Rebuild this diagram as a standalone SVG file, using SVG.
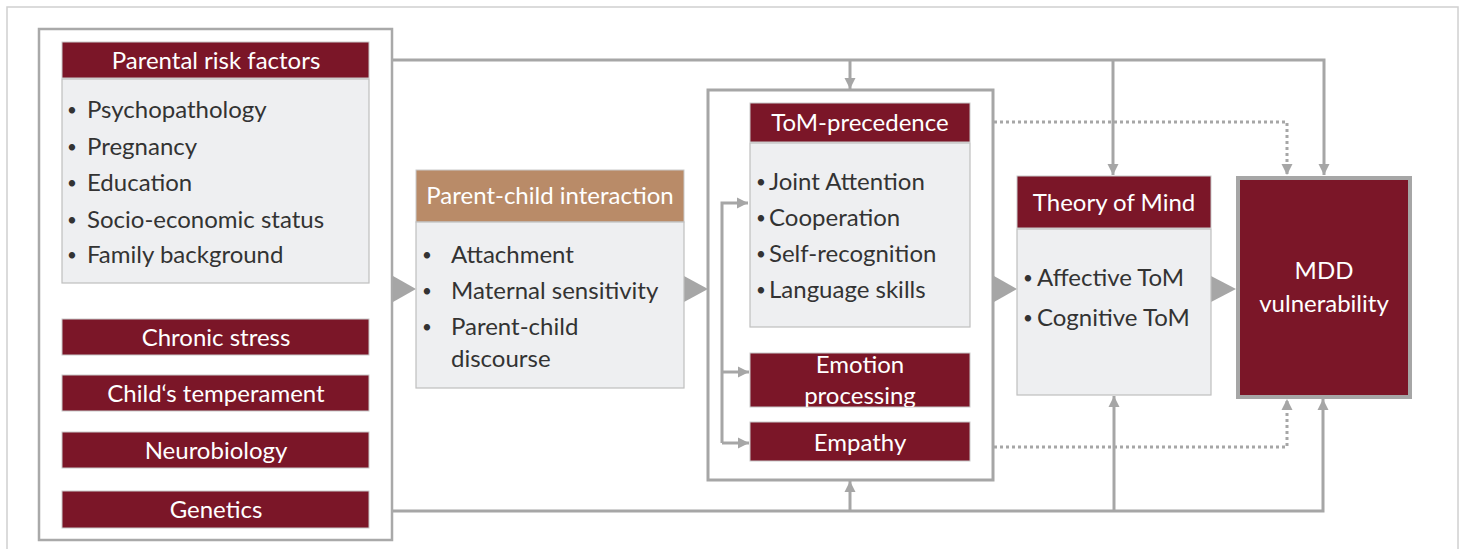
<svg xmlns="http://www.w3.org/2000/svg" width="1466" height="549" viewBox="0 0 1466 549">
<style>
text{font-family:Lato,"Open Sans","Liberation Sans",sans-serif;font-size:24px}
.hd{fill:#7b1628;stroke:#c9c9c9;stroke-width:1}
.bd{fill:#eeeff1;stroke:#bfbfbf;stroke-width:1.2}
.w{fill:#ffffff;text-anchor:middle}
.t{fill:#333333}
.b{fill:#333333;font-size:17px;text-anchor:middle}
.ln{fill:none;stroke:#a6a6a6;stroke-width:3}
.dt{fill:none;stroke:#a6a6a6;stroke-width:3;stroke-dasharray:3 3}
.tri{fill:#a6a6a6}
</style>
<defs>
<marker id="ah" markerUnits="userSpaceOnUse" markerWidth="12" markerHeight="12" refX="11" refY="6" orient="auto">
<path d="M0,0.5 L11,6 L0,11.5 z" fill="#a6a6a6"/>
</marker>
<clipPath id="clipEmo"><rect x="750" y="353" width="220" height="54"/></clipPath>
</defs>
<rect width="1466" height="549" fill="#ffffff"/>
<rect x="7" y="7" width="1451" height="560" fill="none" stroke="#d0d0d0" stroke-width="1.5"/>

<g id="connectors">
<path class="ln" d="M392,60 H1324 V175" marker-end="url(#ah)"/>
<path class="ln" d="M850,60 V89" marker-end="url(#ah)"/>
<path class="ln" d="M1113,60 V175" marker-end="url(#ah)"/>
<path class="ln" d="M392,511 H1323 V399" marker-end="url(#ah)"/>
<path class="ln" d="M850,511 V481" marker-end="url(#ah)"/>
<path class="ln" d="M1114,511 V396" marker-end="url(#ah)"/>
<path class="dt" d="M994,122 H1287 V175" marker-end="url(#ah)"/>
<path class="dt" d="M994,447 H1287 V399" marker-end="url(#ah)"/>
<path class="ln" d="M722,443 V203 H748" marker-end="url(#ah)"/>
<path class="ln" d="M722,372 H749" marker-end="url(#ah)"/>
<path class="ln" d="M722,443 H749" marker-end="url(#ah)"/>
<polygon class="tri" points="393,276 416,289 393,302"/>
<polygon class="tri" points="684,276 708,289 684,302"/>
<polygon class="tri" points="994,276 1017,289 994,302"/>
<polygon class="tri" points="1211,276 1236,289 1211,302"/>
</g>

<g id="risk-group">
<rect x="39" y="29" width="353" height="511" fill="none" stroke="#a9a9a9" stroke-width="2.5"/>
</g>

<g id="parental-risk-factors">
<rect class="hd" x="62" y="42" width="307" height="36"/>
<text class="w" x="216" y="69">Parental risk factors</text>
<rect class="bd" x="62" y="79" width="307" height="204"/>
<text class="b" x="72" y="116">•</text><text class="t" x="87" y="118">Psychopathology</text>
<text class="b" x="72" y="153">•</text><text class="t" x="87" y="155">Pregnancy</text>
<text class="b" x="72" y="189">•</text><text class="t" x="87" y="191">Education</text>
<text class="b" x="72" y="226">•</text><text class="t" x="87" y="228">Socio-economic status</text>
<text class="b" x="72" y="261">•</text><text class="t" x="87" y="263">Family background</text>
</g>

<g id="chronic-stress">
<rect class="hd" x="62" y="319" width="307" height="36"/>
<text class="w" x="216" y="346">Chronic stress</text>
</g>
<g id="childs-temperament">
<rect class="hd" x="62" y="375" width="307" height="36"/>
<text class="w" x="216" y="402">Child‘s temperament</text>
</g>
<g id="neurobiology">
<rect class="hd" x="62" y="432" width="307" height="36"/>
<text class="w" x="216" y="459">Neurobiology</text>
</g>
<g id="genetics">
<rect class="hd" x="62" y="491" width="307" height="37"/>
<text class="w" x="216" y="518">Genetics</text>
</g>

<g id="parent-child-interaction">
<rect x="416" y="170" width="268" height="52" fill="#b98b68" stroke="#c9c9c9" stroke-width="1"/>
<text class="w" x="550" y="204">Parent-child interaction</text>
<rect class="bd" x="416" y="222" width="268" height="166"/>
<text class="b" x="427" y="261">•</text><text class="t" x="451" y="263">Attachment</text>
<text class="b" x="427" y="297">•</text><text class="t" x="451" y="299">Maternal sensitivity</text>
<text class="b" x="427" y="333">•</text><text class="t" x="451" y="335">Parent-child</text>
<text class="t" x="451" y="367">discourse</text>
</g>

<g id="tom-group">
<rect x="708" y="90" width="285" height="390" fill="none" stroke="#a6a6a6" stroke-width="3"/>
</g>

<g id="tom-precedence">
<rect class="hd" x="750" y="103" width="220" height="39"/>
<text class="w" x="860" y="131">ToM-precedence</text>
<rect class="bd" x="750" y="143" width="220" height="184"/>
<text class="b" x="761" y="188">•</text><text class="t" x="769" y="190">Joint Attention</text>
<text class="b" x="761" y="224">•</text><text class="t" x="769" y="226">Cooperation</text>
<text class="b" x="761" y="260">•</text><text class="t" x="769" y="262">Self-recognition</text>
<text class="b" x="761" y="296">•</text><text class="t" x="769" y="298">Language skills</text>
</g>

<g id="emotion-processing">
<rect class="hd" x="750" y="353" width="220" height="54"/>
<g clip-path="url(#clipEmo)">
<text class="w" x="860" y="373">Emotion</text>
<text class="w" x="860" y="404">processing</text>
</g>
</g>

<g id="empathy">
<rect class="hd" x="750" y="422" width="220" height="39"/>
<text class="w" x="860" y="451">Empathy</text>
</g>

<g id="theory-of-mind">
<rect class="hd" x="1017" y="176" width="194" height="52"/>
<text class="w" x="1114" y="211">Theory of Mind</text>
<rect class="bd" x="1017" y="229" width="194" height="166"/>
<text class="b" x="1028" y="284">•</text><text class="t" x="1037" y="286">Affective ToM</text>
<text class="b" x="1028" y="324">•</text><text class="t" x="1037" y="326">Cognitive ToM</text>
</g>

<g id="mdd-vulnerability">
<rect x="1238" y="178" width="172" height="219" fill="#7b1628" stroke="#a6a6a6" stroke-width="4"/>
<text class="w" x="1324" y="279">MDD</text>
<text class="w" x="1324" y="312">vulnerability</text>
</g>
</svg>
